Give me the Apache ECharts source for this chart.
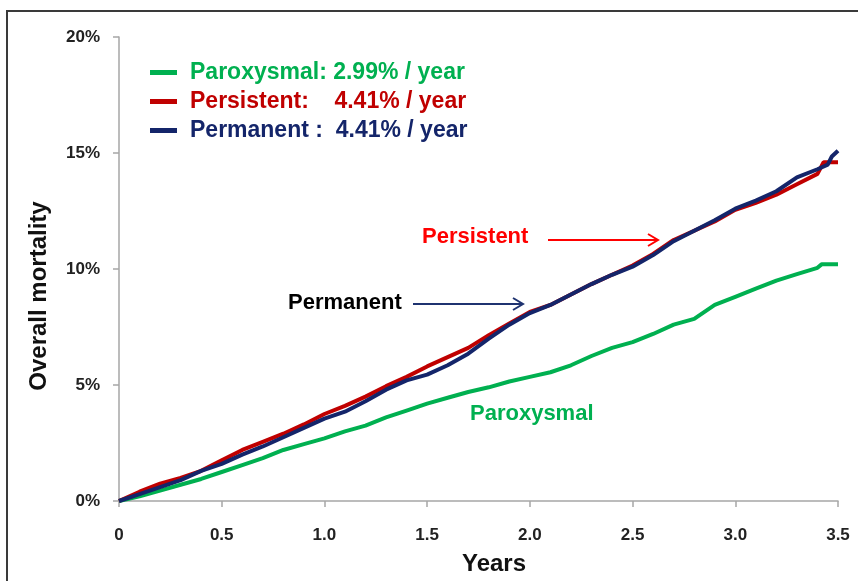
<!DOCTYPE html>
<html>
<head>
<meta charset="utf-8">
<script src="https://cdn.jsdelivr.net/npm/echarts@6/dist/echarts.min.js"></script>
<style>
  html, body { margin: 0; padding: 0; background: #fff; }
  #chart { width: 858px; height: 581px; }
</style>
</head>
<body>
<div id="chart"></div>
<script>
// years 0 .. 3.4 shared by all three curves, each has its own tail
var baseYears = [0, 0.1, 0.2, 0.3, 0.4, 0.5, 0.6, 0.7, 0.8, 0.9, 1.0, 1.1, 1.2, 1.3, 1.4, 1.5, 1.6, 1.7,
  1.8, 1.9, 2.0, 2.1, 2.2, 2.3, 2.4, 2.5, 2.6, 2.7, 2.8, 2.9, 3.0, 3.1, 3.2, 3.3, 3.4];

var yearsParoxysmal = baseYears.concat([3.42, 3.5]);
var yearsPersistent = baseYears.concat([3.43, 3.5]);
var yearsPermanent = baseYears.concat([3.45, 3.47, 3.5]);

// overall mortality, %
var paroxysmal = [0, 0.2, 0.45, 0.7, 0.95, 1.25, 1.55, 1.85, 2.2, 2.45, 2.7, 3.0, 3.25, 3.6, 3.9, 4.2,
  4.45, 4.7, 4.9, 5.15, 5.35, 5.55, 5.85, 6.25, 6.6, 6.85, 7.2, 7.6, 7.85, 8.45, 8.8, 9.15, 9.5, 9.78,
  10.05, 10.2, 10.2];
var persistent = [0, 0.4, 0.75, 1.0, 1.3, 1.75, 2.2, 2.55, 2.9, 3.3, 3.75, 4.1, 4.5, 4.95, 5.35, 5.8,
  6.2, 6.6, 7.15, 7.65, 8.15, 8.45, 8.9, 9.35, 9.75, 10.15, 10.65, 11.25, 11.65, 12.05, 12.55, 12.85,
  13.2, 13.65, 14.1, 14.6, 14.6];
var permanent = [0, 0.3, 0.6, 0.9, 1.3, 1.6, 2.0, 2.35, 2.75, 3.15, 3.55, 3.85, 4.3, 4.8, 5.2, 5.45,
  5.85, 6.35, 7.0, 7.6, 8.1, 8.45, 8.9, 9.35, 9.75, 10.1, 10.6, 11.2, 11.65, 12.1, 12.6, 12.95, 13.35,
  13.95, 14.3, 14.5, 14.85, 15.1];

var seriesNames = ["Paroxysmal", "Persistent", "Permanent"];
var legendLabels = ["Paroxysmal: 2.99% / year", "Persistent:    4.41% / year", "Permanent :  4.41% / year"];
var colors = ["#00b050", "#c00000", "#14256a"];

var yTicks = [0, 5, 10, 15, 20];
var xTicks = [0, 0.5, 1.0, 1.5, 2.0, 2.5, 3.0, 3.5];

function pairs(xs, ys) {
  var out = [];
  for (var i = 0; i < xs.length; i++) out.push([xs[i], ys[i]]);
  return out;
}

var chart = echarts.init(document.getElementById("chart"));
var font = "Arial, 'Liberation Sans', sans-serif";

var option = {
  animation: false,
  backgroundColor: "#fff",
  grid: { left: 119, right: 20, top: 37, bottom: 80, containLabel: false },
  xAxis: {
    type: "value",
    min: xTicks[0],
    max: xTicks[xTicks.length - 1],
    interval: 0.5,
    splitLine: { show: false },
    axisLine: { lineStyle: { color: "#a6a6a6", width: 1.5 } },
    axisTick: { length: 6, lineStyle: { color: "#a6a6a6", width: 1.5 } },
    axisLabel: {
      margin: 26,
      color: "#222",
      fontFamily: font,
      fontWeight: "bold",
      fontSize: 17,
      formatter: function (v) { return v === 0 ? "0" : v.toFixed(1); }
    }
  },
  yAxis: {
    type: "value",
    min: yTicks[0],
    max: yTicks[yTicks.length - 1],
    interval: 5,
    splitLine: { show: false },
    axisLine: { show: true, lineStyle: { color: "#a6a6a6", width: 1.5 } },
    axisTick: { show: true, length: 6, lineStyle: { color: "#a6a6a6", width: 1.5 } },
    axisLabel: {
      margin: 19,
      color: "#222",
      fontFamily: font,
      fontWeight: "bold",
      fontSize: 17,
      formatter: "{value}%"
    }
  },
  legend: {
    left: 145,
    top: 53,
    orient: "vertical",
    itemGap: 0,
    itemWidth: 27,
    itemHeight: 5,
    icon: "rect",
    data: seriesNames.map(function (n, i) {
      return { name: n, textStyle: { color: colors[i] } };
    }),
    formatter: function (name) { return legendLabels[seriesNames.indexOf(name)]; },
    textStyle: {
      fontFamily: font,
      fontWeight: "bold",
      fontSize: 23,
      lineHeight: 29,
      padding: [0, 0, 0, 8]
    }
  },
  series: [
    { name: seriesNames[0], data: pairs(yearsParoxysmal, paroxysmal), color: colors[0] },
    { name: seriesNames[1], data: pairs(yearsPersistent, persistent), color: colors[1] },
    { name: seriesNames[2], data: pairs(yearsPermanent, permanent), color: colors[2] }
  ].map(function (s) {
    return {
      name: s.name,
      type: "line",
      data: s.data,
      showSymbol: false,
      color: s.color,
      lineStyle: { width: 4, color: s.color }
    };
  }),
  graphic: [
    // outer frame
    { type: "rect", shape: { x: 7, y: 11, width: 900, height: 620 },
      style: { fill: "none", stroke: "#3a3a3a", lineWidth: 2 }, silent: true },
    { type: "text", x: 39, y: 296, rotation: Math.PI / 2,
      style: { text: "Overall mortality", fill: "#111", font: "bold 24px " + font,
        align: "center", verticalAlign: "middle" } },
    { type: "text", x: 494, y: 564,
      style: { text: "Years", fill: "#111", font: "bold 24px " + font,
        align: "center", verticalAlign: "middle" } },
    // annotations
    { type: "text", x: 422, y: 237,
      style: { text: "Persistent", fill: "#ff0000", font: "bold 22px " + font, verticalAlign: "middle" } },
    { type: "polyline", shape: { points: [[548, 240], [658, 240]] },
      style: { stroke: "#ff0000", lineWidth: 2, fill: "none" } },
    { type: "polyline", shape: { points: [[648, 234], [658, 240], [648, 246]] },
      style: { stroke: "#ff0000", lineWidth: 2, fill: "none" } },
    { type: "text", x: 288, y: 303,
      style: { text: "Permanent", fill: "#000", font: "bold 22px " + font, verticalAlign: "middle" } },
    { type: "polyline", shape: { points: [[413, 304], [523, 304]] },
      style: { stroke: "#1f3370", lineWidth: 2, fill: "none" } },
    { type: "polyline", shape: { points: [[513, 298], [523, 304], [513, 310]] },
      style: { stroke: "#1f3370", lineWidth: 2, fill: "none" } },
    { type: "text", x: 470, y: 414,
      style: { text: "Paroxysmal", fill: "#00b050", font: "bold 22px " + font, verticalAlign: "middle" } }
  ]
};

chart.setOption(option);
</script>
</body>
</html>
